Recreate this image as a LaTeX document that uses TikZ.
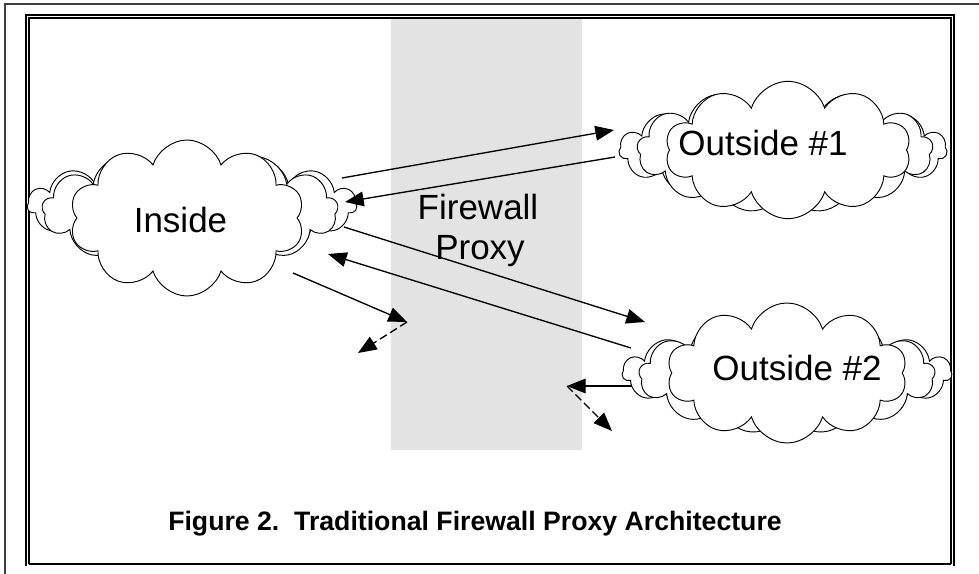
\documentclass[tikz,border=0pt]{standalone}
\usepackage{fontspec}
\setmainfont{Liberation Sans}
\usetikzlibrary{shapes.symbols,arrows.meta}
\definecolor{wallgray}{RGB}{227,227,227}
\begin{document}
\begin{tikzpicture}[x=0.75pt,y=-0.75pt,
  backpuff/.style={cloud, draw, fill=white, cloud ignores aspect, line width=0.7pt, inner sep=0pt},
  mainpuff/.style={cloud, draw, fill=white, cloud ignores aspect, cloud puffs=10, cloud puff arc=145, line width=0.7pt, inner sep=0pt},
  cloudtext/.style={font=\fontsize{26.25}{30}\selectfont, inner sep=0pt, anchor=base},
  flow/.style={-{Triangle[length=14pt,width=11pt]}, line width=1pt},
  blocked/.style={flow, dash pattern=on 6pt off 3pt},
  frameline/.style={line width=0.8pt},
]
\useasboundingbox (0,0) rectangle (979,574);

% page frame
\draw[line width=1.9pt, black!75] (5,600) -- (5,4) -- (1000,4);
\draw[frameline] (26,566) -- (26,15) -- (954,15) -- (954,566);
\draw[frameline] (29,564) -- (29,18) -- (951,18) -- (951,564);
\draw[line width=1.4pt] (29,564) -- (951,564);

% firewall band
\fill[wallgray] (391,19) rectangle (582,450);

% Inside cloud
\node[backpuff, cloud puffs=15, minimum width=247pt, minimum height=76pt] (inB1) at (192,205) {};
\node[backpuff, cloud puffs=13, minimum width=222pt, minimum height=90pt] (inB2) at (190,210) {};
\node[mainpuff, minimum width=176pt, minimum height=117pt] (in) at (187,218) {};
\node[cloudtext] (inT) at (180.5,233) {Inside};

% Outside #1 cloud
\node[backpuff, cloud puffs=15, minimum width=246pt, minimum height=80pt] (o1B1) at (783,150) {};
\node[backpuff, cloud puffs=13, minimum width=222pt, minimum height=94pt] (o1B2) at (785,150) {};
\node[mainpuff, minimum width=184pt, minimum height=103pt] (o1) at (788,150) {};
\node[cloudtext] (o1T) at (763,156) {Outside \#1};

% Outside #2 cloud
\node[backpuff, cloud puffs=15, minimum width=247pt, minimum height=74pt] (o2B1) at (787,373) {};
\node[backpuff, cloud puffs=13, minimum width=222pt, minimum height=88pt] (o2B2) at (787,375) {};
\node[mainpuff, minimum width=180pt, minimum height=105pt] (o2) at (787,373) {};
\node[cloudtext] (o2T) at (797,380) {Outside \#2};

% firewall label
\node[cloudtext] (fw1) at (478,220) {Firewall};
\node[cloudtext] (fw2) at (480,260) {Proxy};

% connector end points
\coordinate (a1s) at (342,178); \coordinate (a1e) at (614,130);
\coordinate (a2s) at (615,157); \coordinate (a2e) at (345,202);
\coordinate (a3s) at (344,227); \coordinate (a3e) at (645,322);
\coordinate (a4s) at (631,348); \coordinate (a4e) at (328,254);
\coordinate (b1s) at (293,273); \coordinate (b1e) at (407,322);
\coordinate (b1d) at (358,353);
\coordinate (b2s) at (632,386); \coordinate (b2e) at (567,386);
\coordinate (b2d) at (612,431);

% traffic through the proxy
\draw[flow] (a1s) -- (a1e);
\draw[flow] (a2s) -- (a2e);
\draw[flow] (a3s) -- (a3e);
\draw[flow] (a4s) -- (a4e);

% direct traffic stopped at the firewall
\draw[flow] (b1s) -- (b1e);
\draw[blocked] (b1e) -- (b1d);
\draw[flow] (b2s) -- (b2e);
\draw[blocked] (b2e) -- (b2d);

% caption
\node[font=\bfseries\fontsize{20}{24}\selectfont, anchor=base, inner sep=0pt] (cap) at (475,530) {Figure 2.\ \ Traditional Firewall Proxy Architecture};
\end{tikzpicture}
\end{document}
